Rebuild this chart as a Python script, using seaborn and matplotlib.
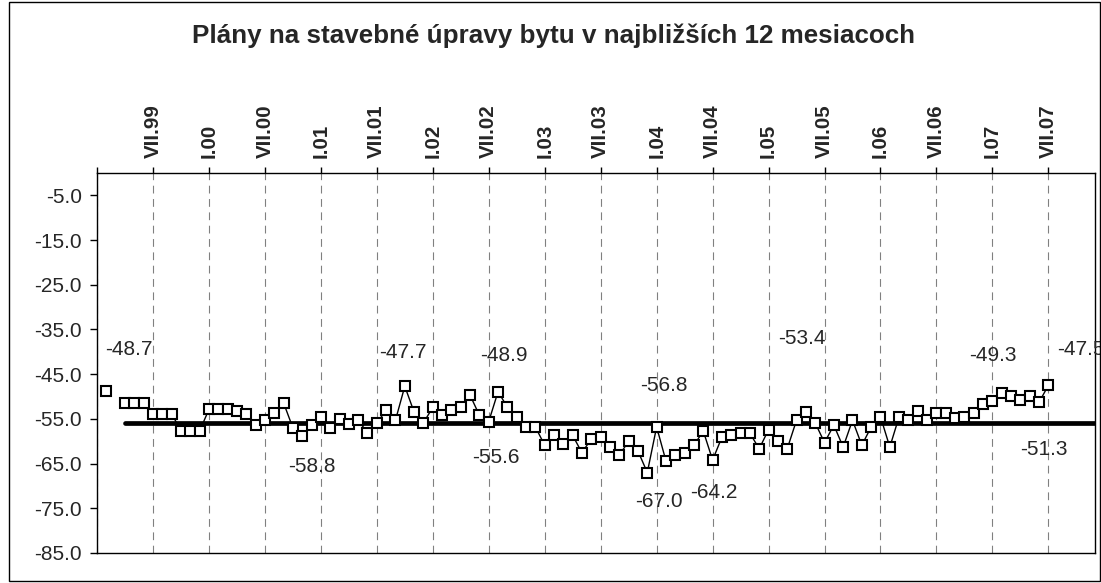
import numpy as np
import pandas as pd
import matplotlib
matplotlib.use("Agg")
import matplotlib.pyplot as plt
import seaborn as sns
from matplotlib.patches import Rectangle

# ---------------- data ----------------
roman = ["I", "II", "III", "IV", "V", "VI", "VII", "VIII", "IX", "X", "XI", "XII"]
years = ["99", "00", "01", "02", "03", "04", "05", "06", "07"]
months = [f"{r}.{y}" for y in years for r in roman]  # I.99 ... XII.07 (categories)

nan = np.nan
values = [
    nan, -48.7, nan, -51.5, -51.5, -51.5, -53.8, -53.8, -53.8, -57.7, -57.7, -57.7,   # 1999
    -52.9, -52.9, -52.9, -53.3, -53.8, -56.3, -55.3, -53.6, -51.4, -57.0, -58.8, -56.4,  # 2000
    -54.5, -57.0, -55.0, -56.2, -55.3, -58.1, -55.9, -53.1, -55.3, -47.7, -53.5, -55.9,  # 2001
    -52.4, -54.2, -53.1, -52.4, -49.7, -54.2, -55.6, -48.9, -52.4, -54.5, -56.8, -56.8,  # 2002
    -60.9, -58.7, -60.7, -58.7, -62.6, -59.4, -59.0, -61.3, -63.1, -60.0, -62.2, -67.0,  # 2003
    -56.8, -64.4, -63.1, -62.6, -60.9, -57.7, -64.2, -59.1, -58.6, -58.2, -58.2, -61.7,  # 2004
    -57.4, -60.0, -61.7, -55.3, -53.4, -55.9, -60.3, -56.4, -61.3, -55.3, -60.9, -56.8,  # 2005
    -54.5, -61.3, -54.5, -55.3, -53.3, -55.3, -53.6, -53.6, -54.9, -54.5, -53.6, -51.6,  # 2006
    -51.0, -49.3, -49.9, -50.7, -49.9, -51.3, -47.5, nan, nan, nan, nan, nan,           # 2007
]

average_value = -56.0
average_start = "IV.99"

tick_labels = ["VII.99", "I.00", "VII.00", "I.01", "VII.01", "I.02", "VII.02", "I.03",
               "VII.03", "I.04", "VII.04", "I.05", "VII.05", "I.06", "VII.06", "I.07", "VII.07"]

label_months = ["II.99", "XI.00", "X.01", "VII.02", "VIII.02", "XII.03", "I.04",
                "VII.04", "V.05", "II.07", "VI.07", "VII.07"]
label_texts = ["-48.7", "-58.8", "-47.7", "-55.6", "-48.9", "-67.0", "-56.8",
               "-64.2", "-53.4", "-49.3", "-51.3", "-47.5"]
# label offsets from the point, in pixels (right, down)
label_offsets_px = [(23, -41), (10, 31), (-2, -34), (7, 36), (6, -36), (12, 29), (7, -41),
                    (1, 32), (-4, -73), (-9, -38), (5, 47), (33, -36)]

title = "Plány na stavebné úpravy bytu v najbližších 12 mesiacoch"

# ---------------- build frames ----------------
df = pd.DataFrame({"month": months, "pos": np.arange(len(months)), "value": values})
df["segment"] = df["value"].isna().cumsum()
df_line = df.dropna(subset=["value"]).copy()

start_pos = months.index(average_start)
df_avg = pd.DataFrame({"pos": np.arange(start_pos, len(months)),
                       "value": average_value})

# ---------------- plot ----------------
sns.set_style("white")
plt.rcParams["font.family"] = ["Liberation Sans", "DejaVu Sans"]

DPI = 100
fig = plt.figure(figsize=(11.01, 5.83), dpi=DPI)
W, H = 1101, 583
ax = fig.add_axes([97 / W, 1 - 553 / H, (1095 - 97) / W, (553 - 173) / H])

sns.lineplot(data=df_avg, x="pos", y="value", color="black", lw=3.4,
             solid_capstyle="round", ax=ax, zorder=2, legend=False)
sns.lineplot(data=df_line, x="pos", y="value", units="segment", estimator=None,
             color="black", lw=1.0, marker="s", markersize=7.6,
             markerfacecolor="white", markeredgecolor="black", markeredgewidth=1.5,
             ax=ax, zorder=3, legend=False)

ax.set_xlim(0, len(months) - 1)
ax.set_ylim(-85, 0)

tick_pos = [0] + [months.index(t) for t in tick_labels]
ax.set_xticks(tick_pos)
ax.set_xticklabels([""] + tick_labels, rotation=90, fontweight="bold", fontsize=14.8)
ax.xaxis.tick_top()
ax.tick_params(axis="x", direction="out", length=4.5, width=1, color="black", pad=6,
               top=True, bottom=False, labeltop=True, labelbottom=False)

yt = list(range(-85, 0, 10))
ax.set_yticks(yt)
ax.set_yticklabels([f"{v:.1f}" for v in yt], fontsize=15)
ax.tick_params(axis="y", direction="out", length=5, width=1, color="black", pad=6, left=True)

ax.xaxis.grid(True, color="#808080", linestyle=(0, (7, 5)), lw=0.8)
ax.yaxis.grid(False)
ax.set_xlabel("")
ax.set_ylabel("")
for s in ax.spines.values():
    s.set_visible(True)
    s.set_color("black")
    s.set_linewidth(1.0)

px2pt = 72 / DPI
for m, t, (dx, dy) in zip(label_months, label_texts, label_offsets_px):
    p = months.index(m)
    v = values[p]
    ax.annotate(t, xy=(p, v), xytext=(dx * px2pt, -dy * px2pt), textcoords="offset points",
                ha="center", va="center", fontsize=15, annotation_clip=False, zorder=5)

fig.text(553 / W, 1 - 36 / H, title, ha="center", va="center", fontsize=18.7,
         fontweight="bold")

fig.patches.append(Rectangle((9 / W, 1 - 581 / H), (1100 - 9) / W, (581 - 2) / H,
                             transform=fig.transFigure, fill=False, edgecolor="black",
                             lw=1.0, zorder=0))

fig.savefig("out.png", dpi=DPI)
